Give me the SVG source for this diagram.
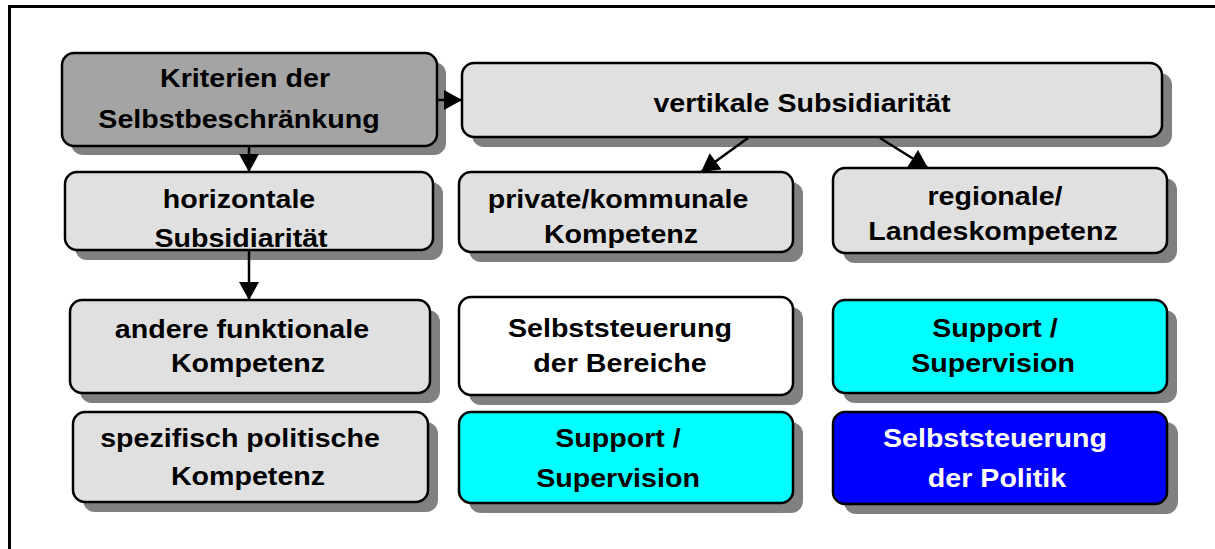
<svg xmlns="http://www.w3.org/2000/svg" width="1215" height="549" viewBox="0 0 1215 549">
<defs>
<style>
.box{stroke:#000;stroke-width:2.5}
.shadow{fill:#808080}
.dark{fill:#a4a4a4}
.light{fill:#e0e0e0}
.white{fill:#ffffff}
.cyan{fill:#00ffff}
.blue{fill:#0000ff}
.t{font-family:"Liberation Sans",Arial,sans-serif;font-weight:bold;font-size:26px;text-anchor:middle;fill:#000}
.tw{fill:#fff}
.conn{stroke:#000;stroke-width:2.5;fill:none;marker-end:url(#ah)}
</style>
<marker id="ah" markerUnits="userSpaceOnUse" markerWidth="20" markerHeight="20" viewBox="0 0 18 20" refX="18" refY="10" orient="auto">
<path d="M0,0 L18,10 L0,20 Z" fill="#000"/>
</marker>
</defs>
<rect width="1215" height="549" fill="#fff"/>
<g id="frame" stroke="#000" stroke-width="3" fill="none">
<line x1="8" y1="6.5" x2="1215" y2="6.5"/>
<line x1="9.5" y1="5" x2="9.5" y2="549"/>
</g>

<g id="n-kriterien">
<rect class="shadow" x="71" y="62" width="375" height="93" rx="12"/>
<rect class="box dark" x="62" y="53" width="375" height="93" rx="12"/>
<text class="t" transform="translate(245,87) scale(1.1,1)">Kriterien der</text>
<text class="t" transform="translate(239,128) scale(1.1,1)">Selbstbeschränkung</text>
</g>

<g id="n-vertikale">
<rect class="shadow" x="472" y="73" width="700" height="74" rx="12"/>
<rect class="box light" x="462" y="63" width="700" height="74" rx="12"/>
<text class="t" transform="translate(802,112) scale(1.1,1)">vertikale Subsidiarität</text>
</g>

<g id="n-horizontale">
<rect class="shadow" x="75" y="182" width="368" height="78" rx="12"/>
<rect class="box light" x="65" y="172" width="368" height="78" rx="12"/>
<text class="t" transform="translate(239,208) scale(1.1,1)">horizontale</text>
<text class="t" transform="translate(241,247) scale(1.1,1)">Subsidiarität</text>
</g>

<g id="n-private">
<rect class="shadow" x="469" y="182" width="334" height="80" rx="12"/>
<rect class="box light" x="459" y="172" width="334" height="80" rx="12"/>
<text class="t" transform="translate(618,208) scale(1.1,1)">private/kommunale</text>
<text class="t" transform="translate(621,243) scale(1.1,1)">Kompetenz</text>
</g>

<g id="n-regionale">
<rect class="shadow" x="843" y="178" width="334" height="85" rx="12"/>
<rect class="box light" x="833" y="168" width="334" height="85" rx="12"/>
<text class="t" transform="translate(995,205) scale(1.1,1)">regionale/</text>
<text class="t" transform="translate(993,240) scale(1.1,1)">Landeskompetenz</text>
</g>

<g id="n-andere">
<rect class="shadow" x="80" y="310" width="360" height="93" rx="12"/>
<rect class="box light" x="70" y="300" width="360" height="93" rx="12"/>
<text class="t" transform="translate(242,338) scale(1.1,1)">andere funktionale</text>
<text class="t" transform="translate(248,372) scale(1.1,1)">Kompetenz</text>
</g>

<g id="n-bereiche">
<rect class="shadow" x="469" y="307" width="334" height="98" rx="12"/>
<rect class="box white" x="459" y="297" width="334" height="98" rx="12"/>
<text class="t" transform="translate(620,337) scale(1.1,1)">Selbststeuerung</text>
<text class="t" transform="translate(620,372) scale(1.1,1)">der Bereiche</text>
</g>

<g id="n-support-right">
<rect class="shadow" x="843" y="310" width="334" height="93" rx="12"/>
<rect class="box cyan" x="833" y="300" width="334" height="93" rx="12"/>
<text class="t" transform="translate(995,337) scale(1.1,1)">Support /</text>
<text class="t" transform="translate(993,372) scale(1.1,1)">Supervision</text>
</g>

<g id="n-spezifisch">
<rect class="shadow" x="83" y="422" width="355" height="90" rx="12"/>
<rect class="box light" x="73" y="412" width="355" height="90" rx="12"/>
<text class="t" transform="translate(240,447) scale(1.1,1)">spezifisch politische</text>
<text class="t" transform="translate(248,485) scale(1.1,1)">Kompetenz</text>
</g>

<g id="n-support-mid">
<rect class="shadow" x="469" y="422" width="334" height="91" rx="12"/>
<rect class="box cyan" x="459" y="412" width="334" height="91" rx="12"/>
<text class="t" transform="translate(618,447) scale(1.1,1)">Support /</text>
<text class="t" transform="translate(618,487) scale(1.1,1)">Supervision</text>
</g>

<g id="n-politik">
<rect class="shadow" x="844" y="422" width="334" height="92" rx="12"/>
<rect class="box blue" x="833" y="412" width="334" height="92" rx="12"/>
<text class="t tw" transform="translate(995,447) scale(1.1,1)">Selbststeuerung</text>
<text class="t tw" transform="translate(997,487) scale(1.1,1)">der Politik</text>
</g>

<g id="connectors">
<line class="conn" x1="437" y1="100" x2="462" y2="100"/>
<line class="conn" x1="249" y1="146" x2="249" y2="172"/>
<line class="conn" x1="249" y1="250" x2="249" y2="300"/>
<line class="conn" x1="748" y1="138" x2="701" y2="172"/>
<line class="conn" x1="880" y1="138" x2="928" y2="168"/>
</g>
</svg>
